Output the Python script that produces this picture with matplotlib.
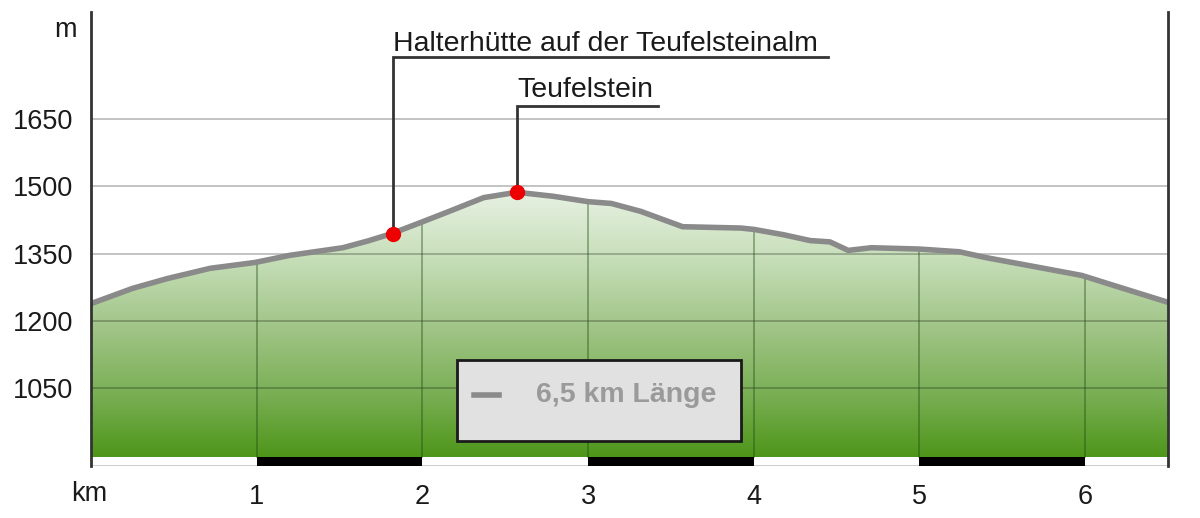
import matplotlib.pyplot as plt
import numpy as np
from matplotlib.colors import LinearSegmentedColormap
from matplotlib.patches import Rectangle, Polygon

plt.rcParams['font.family'] = ['Liberation Sans', 'DejaVu Sans']

# Höhenprofil (km, m)
dist_km = [0.0, 0.25, 0.46, 0.72, 0.99, 1.20, 1.52, 1.67, 1.81, 1.98, 2.16, 2.37, 2.57,
           2.79, 3.00, 3.14, 3.32, 3.57, 3.92, 4.00, 4.18, 4.34, 4.46, 4.57, 4.71,
           5.00, 5.24, 5.40, 5.72, 5.98, 6.23, 6.50]
elev_m = [1238, 1272, 1294, 1317, 1330, 1346, 1363, 1378, 1394, 1418, 1444, 1475, 1487,
          1478, 1466, 1462, 1444, 1410, 1407, 1404, 1392, 1379, 1376, 1357, 1363,
          1360, 1354, 1341, 1319, 1301, 1272, 1241]

poi_names = ["Halterhütte auf der Teufelsteinalm", "Teufelstein"]
poi_km = [1.82, 2.57]
poi_elev = [1394, 1488]

yticks = [1050, 1200, 1350, 1500, 1650]
xticks = [1, 2, 3, 4, 5, 6]
total_km = 6.5
base = 895
ymin, ymax = 875, 1890

fig = plt.figure(figsize=(12, 5.18), dpi=100)
ax = fig.add_axes([91/1200, 1-466/518, (1168-91)/1200, (466-12)/518])
ax.set_xlim(0, total_km)
ax.set_ylim(ymin, ymax)

# horizontale Gitterlinien
for yv in yticks:
    ax.axhline(yv, color='#000000', alpha=0.28, lw=1.2, zorder=3)

# Flaeche mit Farbverlauf
cmap = LinearSegmentedColormap.from_list('g', [
    (0.0, '#4e961a'), (0.25, '#7db159'), (0.5, '#a4c78b'),
    (0.75, '#c9e0bc'), (1.0, '#eaf3e6')])
grad = np.linspace(0, 1, 256).reshape(-1, 1)
im = ax.imshow(grad, extent=[0, total_km, base, 1500], origin='lower',
               aspect='auto', cmap=cmap, zorder=1)
poly = Polygon(list(zip([0] + dist_km + [total_km], [base] + elev_m + [base])),
               closed=True, facecolor='none', edgecolor='none')
ax.add_patch(poly)
im.set_clip_path(poly)

# vertikale Gitterlinien nur in der Flaeche
for xv in xticks:
    top = np.interp(xv, dist_km, elev_m)
    ax.plot([xv, xv], [base, top], color='#1e4a10', alpha=0.45, lw=1.2, zorder=3)

ax.plot(dist_km, elev_m, color='#8a8a8a', lw=4, solid_capstyle='round', zorder=4)

# Massstab unten
ax.add_patch(Rectangle((0, ymin), total_km, base - ymin, facecolor='white',
                       edgecolor='none', zorder=2))
ax.plot([0, total_km], [ymin + 1, ymin + 1], color='#c8c8c8', lw=2, zorder=2)
for k in range(1, 7, 2):
    ax.add_patch(Rectangle((k, ymin), 1, base - ymin, facecolor='black',
                           edgecolor='none', zorder=3))

# Punkte und Beschriftungen
ax.plot(poi_km, poi_elev, 'o', color='#ee0000', ms=10, mec='#ee0000', zorder=6)
lead_y = [1789, 1680]
lead_end = [4.45, 3.42]
text_y = [1818, 1716]
for name, px, py, ly, le, ty in zip(poi_names, poi_km, poi_elev, lead_y, lead_end, text_y):
    ax.plot([px, px, le], [py, ly, ly], color='#333333', lw=2, zorder=5,
            solid_joinstyle='miter', clip_on=False)
    ax.text(px + 0.005, ty, name, fontsize=20.5, color='#1a1a1a', ha='left',
            va='center', zorder=6)

# Legende
ax.add_patch(Rectangle((2.21, 931), 1.71, 181, facecolor='#e1e1e1',
                       edgecolor='#1a1a1a', lw=2, zorder=6))
ax.plot([2.31, 2.46], [1033, 1033], color='#8a8a8a', lw=4, zorder=7)
ax.text(3.23, 1033, "6,5 km Länge", fontsize=20.5, fontweight='bold',
        color='#9a9a9a', ha='center', va='center', zorder=7)

# Achsen
for s in ['top', 'bottom']:
    ax.spines[s].set_visible(False)
for s in ['left', 'right']:
    ax.spines[s].set_color('#333333')
    ax.spines[s].set_linewidth(2)
    ax.spines[s].set_zorder(8)

ax.set_yticks(yticks)
ax.set_yticklabels([str(v) for v in yticks])
ax.set_xticks(xticks)
ax.set_xticklabels([str(v) for v in xticks])
ax.tick_params(length=0, labelsize=19.5, colors='#1a1a1a')
ax.tick_params(axis='y', pad=13)
ax.tick_params(axis='x', pad=13)

fig.text(65/1200, 1-30/518, "m", fontsize=19.5, color='#1a1a1a', ha='center', va='center')
fig.text(89/1200, 1-494/518, "km", fontsize=19.5, color='#1a1a1a', ha='center', va='center')

fig.savefig('out.png', dpi=100)
